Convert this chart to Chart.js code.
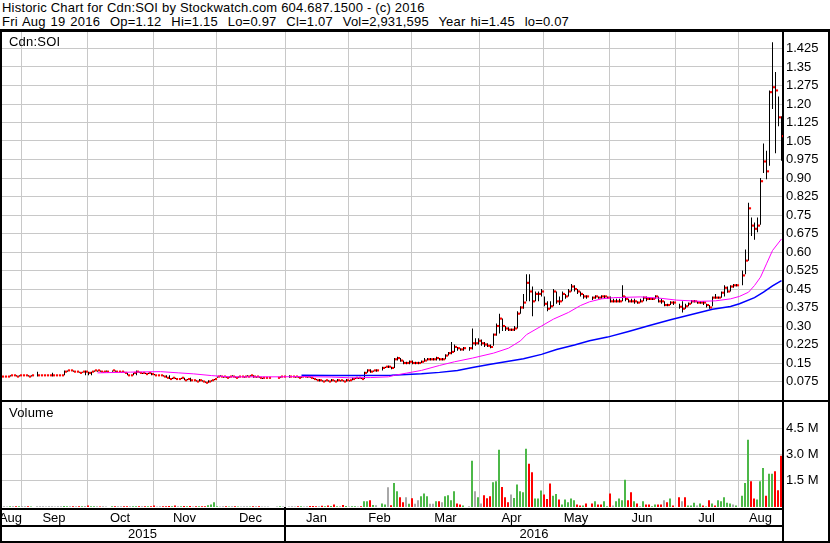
<!DOCTYPE html>
<html lang="en">
<head>
<meta charset="UTF-8">
<title>Historic Chart for Cdn:SOI</title>
<script src="https://cdn.jsdelivr.net/npm/chart.js"></script>
<style>
  body { margin: 0; background: #fff; }
  #wrap { position: relative; width: 830px; height: 543px; overflow: hidden; background: #fff;
          font-family: Arial, "Liberation Sans", sans-serif; font-size: 13px; color: #000; }
  .txt { position: absolute; white-space: pre; line-height: 14px; letter-spacing: 0.2px; }
  .rule { position: absolute; background: #000; }
  canvas { position: absolute; left: 0; }
</style>
</head>
<body>
<div id="wrap">
  <div class="txt" style="left:2px; top:1px;">Historic Chart for Cdn:SOI by Stockwatch.com 604.687.1500 - (c) 2016</div>
  <div class="txt" style="left:2px; top:15px; word-spacing:1.1px;">Fri Aug 19 2016  Op=1.12  Hi=1.15  Lo=0.97  Cl=1.07  Vol=2,931,595  Year hi=1.45  lo=0.07</div>
  <canvas id="priceChart" width="830" height="370" style="top:30px"></canvas>
  <canvas id="volumeChart" width="830" height="143" style="top:400px"></canvas>
  <div class="txt" style="left:9px; top:35px;">Cdn:SOI</div>
  <div class="txt" style="left:9px; top:406px;">Volume</div>
  <div class="rule" style="left:0; top:29px; width:830px; height:3px;"></div>
  <div class="rule" style="left:0; top:400px; width:830px; height:2px;"></div>
  <div class="rule" style="left:0; top:30px; width:2px; height:513px;"></div>
  <div class="rule" style="left:828px; top:30px; width:2px; height:513px;"></div>
</div>

<script>
// one slot per weekday, Fri Aug 21 2015 .. Fri Aug 19 2016 (null = market holiday)
const barCount = 261;
const monthNames = ['Aug', 'Sep', 'Oct', 'Nov', 'Dec', 'Jan', 'Feb', 'Mar', 'Apr', 'May', 'Jun', 'Jul', 'Aug'];
const monthStarts = [0, 7, 29, 51, 72, 95, 116, 137, 160, 181, 203, 225, 246];
const yearNames = ['2015', '2016'];
const yearStarts = [0, 95];
const priceTicks = [0.075, 0.15, 0.225, 0.30, 0.375, 0.45, 0.525, 0.60, 0.675, 0.75,
                    0.825, 0.90, 0.975, 1.05, 1.125, 1.20, 1.275, 1.35, 1.425];
const volumeTicks = [1.5, 3.0, 4.5];

const closes = [
  .095,.095,.095,.10,.10,.095,.10,
  .10,.10,.095,.10,null,.10,.10,.10,.10,.10,.10,.10,.10,.10,.115,.12,.12,.115,.115,.11,.115,.115,
  .11,.115,.12,.12,.115,.115,.115,null,.12,.115,.115,.115,.11,.10,.10,.11,.115,.11,.11,.105,.11,.105,
  .10,.10,.10,.095,.09,.085,.09,.085,.085,.09,.08,.085,.08,.08,.075,.08,.075,.07,.075,.08,.085,
  .095,.095,.095,.09,.095,.095,.09,.095,.095,.095,.095,.10,.095,.095,.09,.09,.09,.09,null,null,.09,.095,.095,
  null,.095,.095,.095,.09,.095,.095,.095,.09,.085,.08,.08,.075,.08,.075,.08,.075,.08,.08,.075,.08,
  .08,.085,.09,.09,.085,.11,.12,.115,.12,.12,null,.13,.135,.135,.13,.165,.17,.16,.15,.15,.155,
  .15,.15,.15,.155,.16,.165,.165,.165,.17,.165,.165,.18,.19,.195,.215,.21,.205,.21,null,.21,.23,.23,.24,
  .23,.225,.22,.215,.265,.30,.33,.30,.29,.285,.285,.29,.35,.375,.395,.475,.44,.40,.43,.43,.44,
  .39,.37,.38,.44,.40,.40,.43,.42,.44,.46,.45,.44,.43,.42,.42,null,.415,.42,.415,.42,.42,.415,
  .40,.40,.40,.40,.42,.41,.40,.40,.40,.395,.40,.415,.41,.41,.41,.42,.40,.40,.385,.385,.395,.395,
  null,.378,.37,.38,.39,.40,.40,.395,.395,.395,.385,.375,.415,.415,.415,.435,.455,.44,.46,.465,.465,
  null,.505,.565,.777,.707,.694,.707,.887,.967,.927,1.248,1.268,1.255,1.146,1.07
];
const highs = [
  .095,.095,.095,.10,.10,.10,.10,
  .10,.10,.10,.10,null,.115,.10,.10,.10,.10,.11,.10,.10,.10,.12,.12,.12,.12,.115,.115,.115,.12,
  .115,.115,.12,.12,.12,.115,.12,null,.12,.12,.115,.115,.115,.11,.10,.11,.12,.115,.11,.11,.11,.11,
  .105,.10,.10,.10,.10,.10,.09,.09,.085,.09,.09,.085,.09,.08,.08,.085,.08,.075,.08,.08,.085,
  .095,.10,.095,.095,.095,.10,.095,.095,.095,.095,.10,.10,.10,.095,.095,.09,.09,.09,null,null,.09,.095,.095,
  null,.10,.095,.095,.095,.095,.10,.095,.095,.09,.085,.085,.08,.08,.08,.085,.08,.085,.08,.08,.085,
  .08,.09,.09,.09,.09,.115,.125,.125,.12,.125,null,.135,.135,.14,.135,.17,.175,.17,.16,.155,.16,
  .16,.155,.155,.16,.17,.17,.17,.17,.175,.17,.17,.185,.195,.235,.225,.215,.21,.215,null,.215,.29,.25,.25,
  .245,.235,.23,.225,.27,.31,.35,.33,.30,.295,.29,.30,.36,.38,.43,.51,.51,.46,.44,.44,.45,
  .42,.40,.40,.45,.44,.42,.44,.43,.45,.47,.465,.45,.44,.43,.425,null,.42,.425,.42,.425,.425,.42,
  .42,.41,.41,.41,.465,.42,.41,.41,.41,.40,.41,.42,.42,.415,.415,.425,.42,.41,.40,.39,.40,.40,
  null,.39,.40,.39,.395,.405,.405,.40,.40,.40,.39,.385,.42,.43,.42,.44,.465,.46,.465,.47,.47,
  null,.525,.61,.80,.74,.72,.74,.90,1.04,1.01,1.255,1.45,1.33,1.23,1.15
];
const lows = [
  .095,.095,.095,.095,.10,.095,.095,
  .10,.10,.095,.095,null,.095,.10,.10,.10,.10,.095,.10,.10,.10,.10,.115,.12,.115,.115,.11,.11,.10,
  .10,.10,.115,.115,.115,.11,.115,null,.115,.115,.115,.11,.11,.10,.10,.10,.10,.11,.105,.105,.105,.10,
  .10,.10,.10,.095,.09,.085,.085,.085,.085,.085,.08,.08,.075,.08,.075,.075,.075,.07,.07,.075,.08,
  .09,.095,.09,.09,.09,.095,.09,.09,.095,.09,.095,.095,.09,.09,.09,.085,.09,.09,null,null,.09,.09,.095,
  null,.09,.095,.09,.09,.09,.095,.09,.09,.085,.08,.075,.075,.075,.075,.075,.075,.075,.075,.075,.075,
  .075,.08,.085,.085,.085,.085,.11,.11,.115,.115,null,.12,.13,.13,.125,.13,.16,.155,.145,.145,.145,
  .145,.145,.145,.15,.155,.16,.16,.16,.16,.16,.16,.165,.18,.185,.195,.20,.20,.20,null,.20,.205,.22,.225,
  .22,.215,.215,.21,.22,.26,.27,.28,.28,.28,.28,.28,.29,.35,.37,.40,.40,.34,.40,.40,.42,
  .38,.36,.37,.38,.39,.385,.40,.41,.42,.44,.44,.43,.42,.41,.41,null,.405,.41,.41,.41,.41,.41,
  .395,.395,.395,.395,.40,.40,.395,.395,.39,.39,.395,.40,.40,.405,.405,.41,.395,.39,.38,.38,.385,.385,
  null,.37,.355,.37,.38,.39,.395,.39,.39,.385,.375,.37,.38,.41,.41,.415,.42,.435,.44,.455,.46,
  null,.465,.51,.565,.665,.65,.68,.71,.92,.895,.95,1.18,1.0,1.11,.97
];
// millions of shares
const volumes = [
  .03,.04,.03,.04,.05,.04,.05,
  .04,.05,.04,.03,null,.04,.05,.04,.03,.04,.04,.03,.05,.04,.06,.05,.04,.04,.05,.05,.04,.06,
  .08,.05,.04,.04,.03,.04,.03,null,.04,.04,.04,.05,.04,.04,.05,.04,.05,.05,.04,.04,.05,.04,
  .08,.03,.04,.05,.05,.06,.05,.08,.04,.05,.06,.04,.06,.03,.05,.04,.05,.04,.10,.14,.27,
  .05,.03,.04,.05,.03,.04,.04,.03,.03,.04,.04,.03,.05,.04,.05,.03,.03,.03,null,null,.03,.04,.03,
  null,.03,.04,.03,.05,.04,.03,.05,.06,.06,.05,.04,.07,.05,.08,.06,.14,.05,.04,.12,.06,
  .03,.05,.04,.03,.05,.33,.33,.39,.12,.10,null,.20,.14,1.13,.10,1.37,.90,.56,.27,.56,.18,
  .50,.18,.39,.62,.77,.62,.18,.18,.33,.33,.27,.62,.67,.39,.90,.20,.14,.08,null,.05,2.65,.90,.56,
  .20,.67,.50,.62,1.41,1.47,3.27,1.15,.56,.27,.71,.52,1.28,.90,.84,3.33,2.47,1.98,.48,.48,.94,
  .71,.46,1.34,.65,.75,.43,.14,.43,.27,.48,.39,.14,.08,.08,.20,null,.20,.33,.14,.14,.33,.05,
  .77,.08,.33,.48,.39,1.56,.39,.84,.33,.20,.05,.33,.14,.14,.05,.14,.14,.14,.39,.27,.48,.08,
  null,.56,.33,.56,.08,.08,.24,.08,.20,.08,.03,.39,.20,.08,.39,.33,.56,.24,.20,.14,.08,
  null,.65,1.37,3.84,1.47,.48,.43,1.47,2.23,.65,1.90,1.90,2.04,.96,2.93
];
// day's change: 1 up, -1 down, 0 unchanged
const trend = [
  0,0,0,1,0,-1,1,
  0,0,-1,1,null,0,0,0,0,0,0,0,0,0,1,1,0,-1,0,-1,1,0,
  -1,1,1,0,-1,0,0,null,1,-1,0,0,-1,-1,0,1,1,-1,0,-1,1,-1,
  -1,0,0,-1,-1,-1,1,-1,0,1,-1,1,-1,0,-1,1,-1,-1,1,1,1,
  1,0,0,-1,1,0,-1,1,0,0,0,1,-1,0,-1,0,0,0,null,null,0,1,0,
  null,0,0,0,-1,1,0,0,-1,-1,-1,0,-1,1,-1,1,-1,1,0,-1,1,
  0,1,1,0,-1,1,1,-1,1,0,null,1,1,0,-1,1,1,-1,-1,0,1,
  -1,0,0,1,1,1,0,0,1,-1,0,1,1,1,1,-1,-1,1,null,0,1,0,1,
  0,-1,-1,-1,1,1,1,-1,-1,-1,0,1,1,1,1,1,-1,-1,1,1,1,
  -1,-1,-1,1,1,-1,1,1,1,1,1,-1,-1,1,-1,null,-1,1,-1,-1,1,1,
  -1,0,1,1,1,1,-1,-1,1,-1,0,1,-1,-1,1,1,-1,-1,0,-1,1,-1,
  null,-1,0,-1,1,1,1,0,1,-1,1,-1,1,-1,1,1,1,1,1,0,1,
  null,1,1,1,-1,-1,1,1,1,-1,1,1,-1,-1,-1
];
// moving averages: [bar, price]
const maShort = [
  [32,.11],[43,.113],[53,.115],[59,.11],[64,.106],[70,.099],[76,.094],[93,.094],[100,.095],
  [110,.093],[116,.09],[123,.091],[129,.094],[131,.10],[135,.109],[140,.12],[146,.14],[151,.155],
  [157,.17],[164,.19],[169,.21],[173,.24],[175,.265],[180,.30],[184,.328],[189,.355],[193,.383],
  [196,.398],[200,.41],[204,.415],[213,.418],[220,.412],[225,.405],[233,.40],[238,.402],[243,.41],
  [246,.42],[249,.437],[251,.464],[253,.498],[255,.552],[257,.606],[260,.653]
];
const maLong = [
  [100,.10],[110,.099],[120,.099],[130,.10],[135,.103],[140,.106],[146,.112],[152,.12],[157,.132],
  [163,.145],[168,.155],[174,.167],[180,.185],[185,.205],[191,.223],[196,.24],[202,.255],[209,.278],
  [216,.302],[223,.325],[230,.347],[237,.368],[243,.379],[246,.39],[251,.415],[254,.437],[257,.463],
  [260,.484]
];

const GRID = '#c8c8c8';
const UP = '#4cb848', DOWN = '#ff0000', FLAT = '#a8a8a8';
const FONT = { family: 'Arial, "Liberation Sans", sans-serif', size: 13 };

const rangeBars = [], closeMarks = [], volBars = [], volColors = [];
for (let i = 0; i < barCount; i++) {
  if (closes[i] === null) continue;
  rangeBars.push({ x: i + 0.5, y: [lows[i], highs[i]] });
  closeMarks.push({ x: i + 1, y: closes[i] });
  volBars.push({ x: i + 1 / 3, y: volumes[i] });
  volColors.push(trend[i] > 0 ? UP : trend[i] < 0 ? DOWN : FLAT);
}
const toPts = arr => arr.map(([b, v]) => ({ x: b + 0.5, y: v }));
const monthMids = monthStarts.map((s, k) => (s + (k + 1 < monthStarts.length ? monthStarts[k + 1] : barCount)) / 2);
const yearMids = yearStarts.map((s, k) => (s + (k + 1 < yearStarts.length ? yearStarts[k + 1] : barCount)) / 2);
const fmtPrice = v => { const s = v.toFixed(3); return s.endsWith('0') ? s.slice(0, -1) : s; };

const noPad = s => { s.paddingLeft = 0; s.paddingRight = 0; s.paddingTop = 0; s.paddingBottom = 0; };
const monthGridAxis = () => ({
  type: 'linear', min: 0, max: barCount, offset: false, weight: 0,
  grid: { color: GRID, drawTicks: false, offset: false }, border: { display: false }, ticks: { display: false },
  afterBuildTicks: s => { s.ticks = monthStarts.map(v => ({ value: v })); },
  afterFit: s => { s.height = 0; noPad(s); }
});
const labelAxis = (mids, names, weight, height, pad) => ({
  type: 'linear', position: 'bottom', min: 0, max: barCount, offset: false, weight: weight,
  grid: { display: false, drawTicks: false }, border: { display: false },
  afterBuildTicks: s => { s.ticks = mids.map(v => ({ value: v })); },
  ticks: { callback: (v, i) => names[i], autoSkip: false, maxRotation: 0, minRotation: 0,
           color: '#000', font: FONT, padding: pad },
  afterFit: s => { s.height = height; noPad(s); }
});
const baseOptions = () => ({
  responsive: false, animation: false, events: [],
  layout: { padding: 0, autoPadding: false },
  plugins: { legend: { display: false }, tooltip: { enabled: false } }
});

new Chart(document.getElementById('priceChart'), {
  type: 'bar',
  data: {
    datasets: [
      { type: 'line', data: toPts(maShort), borderColor: '#ff00ff', borderWidth: 1, pointRadius: 0, tension: 0, order: 0 },
      { type: 'line', data: toPts(maLong), borderColor: '#0000ff', borderWidth: 1.5, pointRadius: 0, tension: 0, order: 0 },
      { type: 'scatter', data: closeMarks, pointStyle: 'rect', pointRadius: 1.5, pointBorderWidth: 0,
        pointBackgroundColor: '#ff0000', order: 1 },
      { type: 'bar', data: rangeBars, backgroundColor: '#000', barThickness: 1, inflateAmount: 0, grouped: false, order: 2 }
    ]
  },
  options: Object.assign(baseOptions(), {
    scales: {
      x: monthGridAxis(),
      y: {
        position: 'right', min: 0, max: 1.5,
        grid: { color: GRID, drawTicks: false }, border: { color: '#000', width: 2 },
        afterBuildTicks: s => { s.ticks = priceTicks.map(v => ({ value: v })); },
        ticks: { callback: v => fmtPrice(v), color: '#000', font: FONT, padding: 3 },
        afterFit: s => { s.width = 47; noPad(s); }
      }
    }
  })
});

const framePlugin = {
  id: 'frame',
  afterDraw(chart) {
    const { ctx, chartArea: a, scales } = chart;
    const h = chart.height;
    ctx.save();
    ctx.fillStyle = '#000';
    ctx.fillRect(0, a.bottom + 1, a.right, 2);
    ctx.fillRect(0, scales.xm.bottom - 1, a.right, 2);
    ctx.fillRect(0, h - 2, chart.width, 2);
    ctx.fillRect(a.right - 1, a.bottom, 2, h - a.bottom);
    yearStarts.slice(1).forEach(v => {
      const x = Math.round(scales.x.getPixelForValue(v));
      ctx.fillRect(x - 1, a.bottom, 2, h - a.bottom);
    });
    ctx.restore();
  }
};

const volOptions = baseOptions();
volOptions.layout.padding = { top: 2, left: 0, right: 0, bottom: 0 };
volOptions.scales = {
  x: monthGridAxis(),
  xm: labelAxis(monthMids, monthNames, 1, 19, 4),
  xy: labelAxis(yearMids, yearNames, 2, 17, 1),
  y: {
    position: 'right', min: 0, max: 6,
    grid: { color: GRID, drawTicks: false }, border: { color: '#000', width: 2 },
    afterBuildTicks: s => { s.ticks = volumeTicks.map(v => ({ value: v })); },
    ticks: { callback: v => v.toFixed(1) + ' M', color: '#000', font: FONT, padding: 3 },
    afterFit: s => { s.width = 47; noPad(s); }
  }
};

new Chart(document.getElementById('volumeChart'), {
  type: 'bar',
  data: {
    datasets: [
      { data: volBars, backgroundColor: volColors, barThickness: 2, inflateAmount: 0, grouped: false }
    ]
  },
  options: volOptions,
  plugins: [framePlugin]
});
</script>
</body>
</html>
